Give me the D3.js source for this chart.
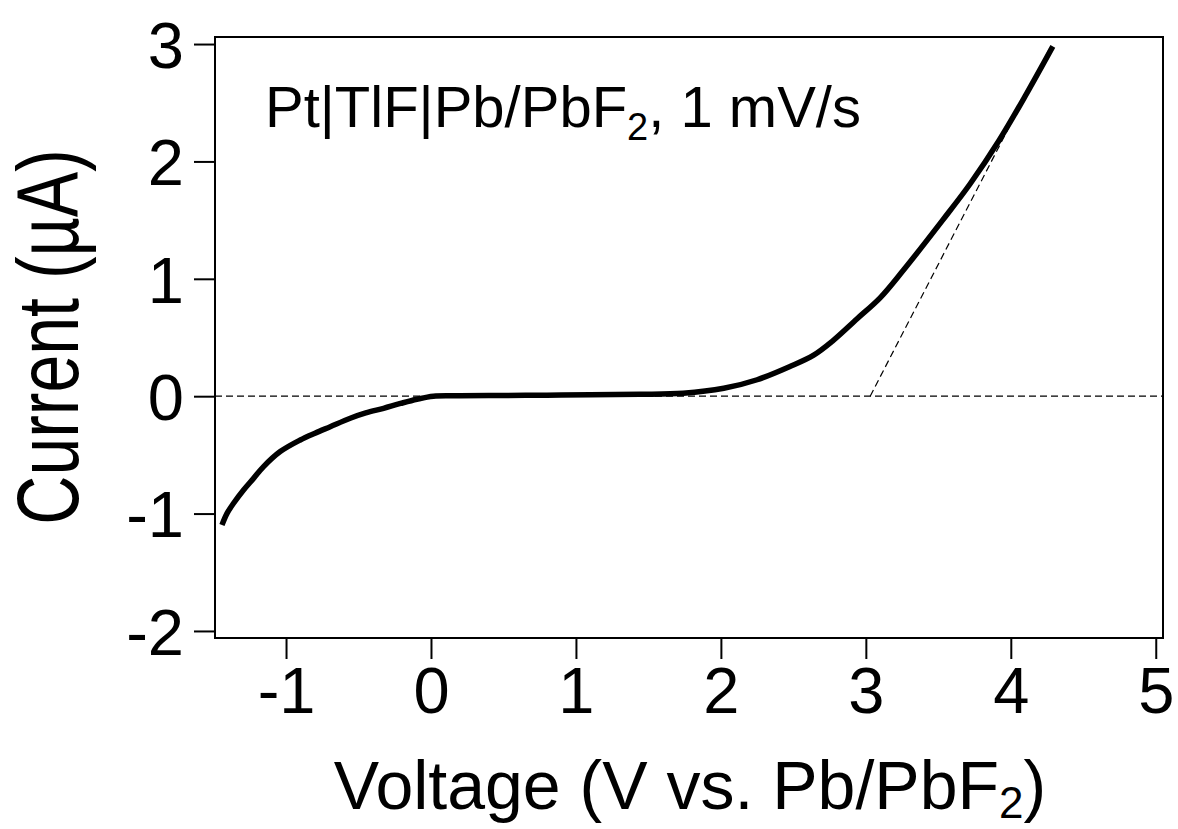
<!DOCTYPE html>
<html>
<head>
<meta charset="utf-8">
<script src="https://cdn.jsdelivr.net/npm/d3@7"></script>
<style>
  html, body { margin: 0; padding: 0; background: #fff; }
  svg { display: block; font-family: "Liberation Sans", Arial, Helvetica, sans-serif; }
</style>
</head>
<body>
<svg id="chart" width="1178" height="829"></svg>
<script>
// Linear sweep voltammogram, Pt|TlF|Pb/PbF2 cell at 1 mV/s
const voltage = [-1.442, -1.407, -1.362, -1.293, -1.224, -1.155, -1.040, -0.902, -0.800,
                 -0.695, -0.557, -0.450, -0.327, -0.210, -0.097, 0.017,
                 0.20, 0.50, 0.80, 1.10, 1.44, 1.74, 2.02, 2.25, 2.48, 2.64,
                 2.77, 2.94, 3.10, 3.26, 3.53, 3.72, 3.92, 4.11, 4.29];
const current = [-1.097, -0.998, -0.912, -0.799, -0.700, -0.600, -0.472, -0.373, -0.315,
                 -0.260, -0.188, -0.143, -0.103, -0.062, -0.026, 0.0,
                 0.003, 0.006, 0.009, 0.012, 0.016, 0.025, 0.067, 0.14, 0.255, 0.35,
                 0.47, 0.66, 0.84, 1.075, 1.50, 1.81, 2.18, 2.58, 2.98];

// Linear extrapolation of the anodic branch back to zero current
const tangentV = [3.03, 4.28];
const tangentI = [0.0, 2.99];

const xTicks = [-1, 0, 1, 2, 3, 4, 5];
const yTicks = [-2, -1, 0, 1, 2, 3];
const xDomain = [-1.49, 5.05];
const yDomain = [-2.06, 3.06];

const svg = d3.select("#chart");
const plotLeft = 215, plotRight = 1163, plotTop = 37, plotBottom = 638;

const x = d3.scaleLinear().domain(xDomain).range([plotLeft, plotRight]);
const y = d3.scaleLinear().domain(yDomain).range([plotBottom, plotTop]);

// frame
svg.append("rect")
  .attr("x", plotLeft).attr("y", plotTop)
  .attr("width", plotRight - plotLeft).attr("height", plotBottom - plotTop)
  .attr("fill", "none").attr("stroke", "#000").attr("stroke-width", 2);

// axes (plain hyphen for negative labels)
const fmt = d => String(d);
const xAxis = svg.append("g")
  .attr("transform", `translate(0,${plotBottom})`)
  .call(d3.axisBottom(x).tickValues(xTicks).tickSize(21).tickPadding(8).tickFormat(fmt));
const yAxis = svg.append("g")
  .attr("transform", `translate(${plotLeft},0)`)
  .call(d3.axisLeft(y).tickValues(yTicks).tickSize(21).tickPadding(10).tickFormat(fmt));

[xAxis, yAxis].forEach(g => {
  g.select(".domain").remove();
  g.selectAll(".tick line").attr("stroke", "#000").attr("stroke-width", 2);
  g.selectAll(".tick text")
    .attr("fill", "#000")
    .attr("font-family", "'Liberation Sans', Arial, Helvetica, sans-serif")
    .attr("font-size", 65);
});
xAxis.selectAll(".tick text").attr("dy", "0.71em");
yAxis.selectAll(".tick text").attr("dy", "0.36em");

// zero-current reference line
svg.append("line")
  .attr("x1", x(xDomain[0])).attr("x2", x(xDomain[1]))
  .attr("y1", y(0)).attr("y2", y(0))
  .attr("stroke", "#000").attr("stroke-width", 1.2)
  .attr("stroke-dasharray", "7,4");

// tangent line
svg.append("line")
  .attr("x1", x(tangentV[0])).attr("x2", x(tangentV[1]))
  .attr("y1", y(tangentI[0])).attr("y2", y(tangentI[1]))
  .attr("stroke", "#000").attr("stroke-width", 1.2)
  .attr("stroke-dasharray", "7,4");

// I-V curve
const pts = voltage.map((v, i) => [v, current[i]]);
svg.append("path")
  .datum(pts)
  .attr("fill", "none")
  .attr("stroke", "#000")
  .attr("stroke-width", 5.5)
  .attr("stroke-linejoin", "round")
  .attr("d", d3.line().x(d => x(d[0])).y(d => y(d[1])).curve(d3.curveCatmullRom.alpha(0.5)));

// in-plot annotation
const note = svg.append("text")
  .attr("x", 265).attr("y", 127)
  .attr("font-size", 58).attr("fill", "#000");
note.append("tspan").text("Pt|TlF|Pb/PbF");
note.append("tspan").attr("font-size", 38).attr("dy", 13).text("2");
note.append("tspan").attr("dy", -13).text(", 1 mV/s");

// axis titles
const xl = svg.append("text")
  .attr("x", 690).attr("y", 809)
  .attr("text-anchor", "middle")
  .attr("font-size", 68).attr("fill", "#000");
xl.append("tspan").text("Voltage (V vs. Pb/PbF");
xl.append("tspan").attr("font-size", 44).attr("dy", 9).text("2");
xl.append("tspan").attr("dy", -9).text(")");

svg.append("text")
  .attr("transform", "translate(78,337) rotate(-90) scale(1,1.28)")
  .attr("text-anchor", "middle")
  .attr("font-size", 68).attr("fill", "#000")
  .text("Current (µA)");
</script>
</body>
</html>
